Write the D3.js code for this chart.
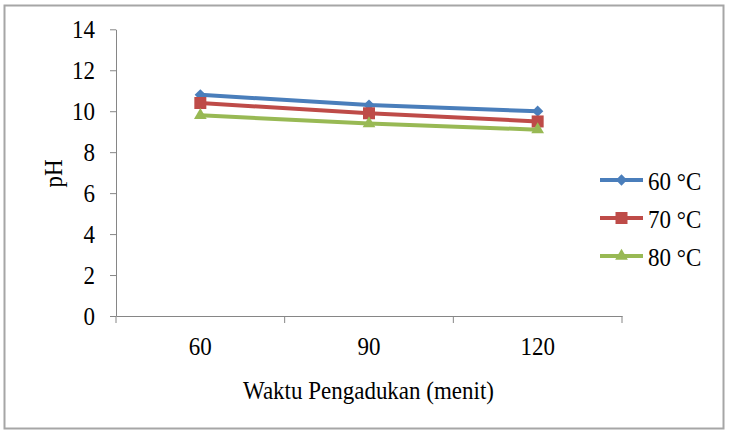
<!DOCTYPE html>
<html><head><meta charset="utf-8">
<script src="https://cdn.jsdelivr.net/npm/d3@7"></script>
<style>body{margin:0;background:#fff}svg{display:block}
svg text{font-family:"Liberation Serif","DejaVu Serif","Times New Roman",serif !important;fill:#000}
</style>
</head><body>
<svg id="c" width="730" height="432"></svg>
<script>
const categories = ["60", "90", "120"];
const seriesNames = ["60 \u00B0C", "70 \u00B0C", "80 \u00B0C"];
const s60 = [10.8, 10.3, 10.0];
const s70 = [10.4, 9.9, 9.5];
const s80 = [9.8, 9.4, 9.1];
const yTicks = [0, 2, 4, 6, 8, 10, 12, 14];
const colors = ["#4a7ebb", "#be4b48", "#98b954"];
const seriesData = [s60, s70, s80];

const FS = 23, SY = 1.1;
const svg = d3.select("#c");
svg.append("rect").attr("x", 4.5).attr("y", 5.5).attr("width", 719).attr("height", 423)
  .attr("fill", "#fff").attr("stroke", "#a6a6a6").attr("stroke-width", 2);

function stretch(sel) {
  sel.each(function () {
    const t = d3.select(this);
    const tx = +t.attr("x") || 0, ty = +t.attr("y") || 0;
    const prev = t.attr("transform") || "";
    t.attr("x", 0).attr("y", 0)
      .attr("transform", `${prev} translate(${tx},${ty}) scale(1,${SY})`);
  });
}

const L = 116, R = 622, T = 29.3, B = 316;
const x = d3.scaleBand().domain(categories).range([L, R]);
const y = d3.scaleLinear().domain([0, 14]).range([B, T]);

const yAxis = svg.append("g").attr("transform", `translate(${L},0)`)
  .call(d3.axisLeft(y).tickValues(yTicks).tickSize(6).tickPadding(15).tickSizeOuter(0));
const xAxis = svg.append("g").attr("transform", `translate(0,${B})`)
  .call(d3.axisBottom(x).tickSize(0).tickPadding(21).tickSizeOuter(0));
const xb = [L].concat(categories.map(c => x(c) + x.bandwidth()));
xAxis.selectAll(".bt").data(xb).join("line").attr("class", "bt")
  .attr("x1", d => d).attr("x2", d => d).attr("y1", 0).attr("y2", 7).attr("stroke", "#868686");
[yAxis, xAxis].forEach(g => {
  g.selectAll("path.domain").attr("stroke", "#868686");
  g.selectAll(".tick line").attr("stroke", "#868686");
  g.selectAll("text").attr("font-size", FS).call(stretch);
});

svg.append("text").attr("transform", `translate(61.5,173.5) rotate(-90) scale(1,${SY})`)
  .attr("text-anchor", "middle").attr("font-size", FS).text("pH");
svg.append("text").attr("x", 368.5).attr("y", 399).attr("text-anchor", "middle")
  .attr("font-size", FS).text("Waktu Pengadukan (menit)").call(stretch);

const cx = c => x(c) + x.bandwidth() / 2;
const line = d3.line().x((d, i) => cx(categories[i])).y(d => y(d));
const markers = [
  {type: d3.symbolSquare, size: 64, rot: 45},
  {type: d3.symbolSquare, size: 144, rot: 0},
  {type: d3.symbolTriangle, size: 70, rot: 0}
];
seriesData.forEach((vals, si) => {
  svg.append("path").attr("d", line(vals)).attr("fill", "none")
    .attr("stroke", colors[si]).attr("stroke-width", 4);
});
seriesData.forEach((vals, si) => {
  const m = markers[si];
  svg.selectAll(null).data(vals).join("path")
    .attr("d", d3.symbol().type(m.type).size(m.size))
    .attr("transform", (d, i) => `translate(${cx(categories[i])},${y(d)}) rotate(${m.rot})`)
    .attr("fill", colors[si]);
});

const legY = [180, 218, 256];
seriesNames.forEach((n, si) => {
  const m = markers[si];
  const g = svg.append("g").attr("transform", `translate(600,${legY[si]})`);
  g.append("line").attr("x1", 0).attr("x2", 43).attr("stroke", colors[si]).attr("stroke-width", 4);
  g.append("path").attr("d", d3.symbol().type(m.type).size(m.size)())
    .attr("transform", `translate(21.5,0) rotate(${m.rot})`).attr("fill", colors[si]);
  g.append("text").attr("x", 48).attr("y", 10).attr("font-size", FS).text(n).call(stretch);
});
</script>
</body></html>
